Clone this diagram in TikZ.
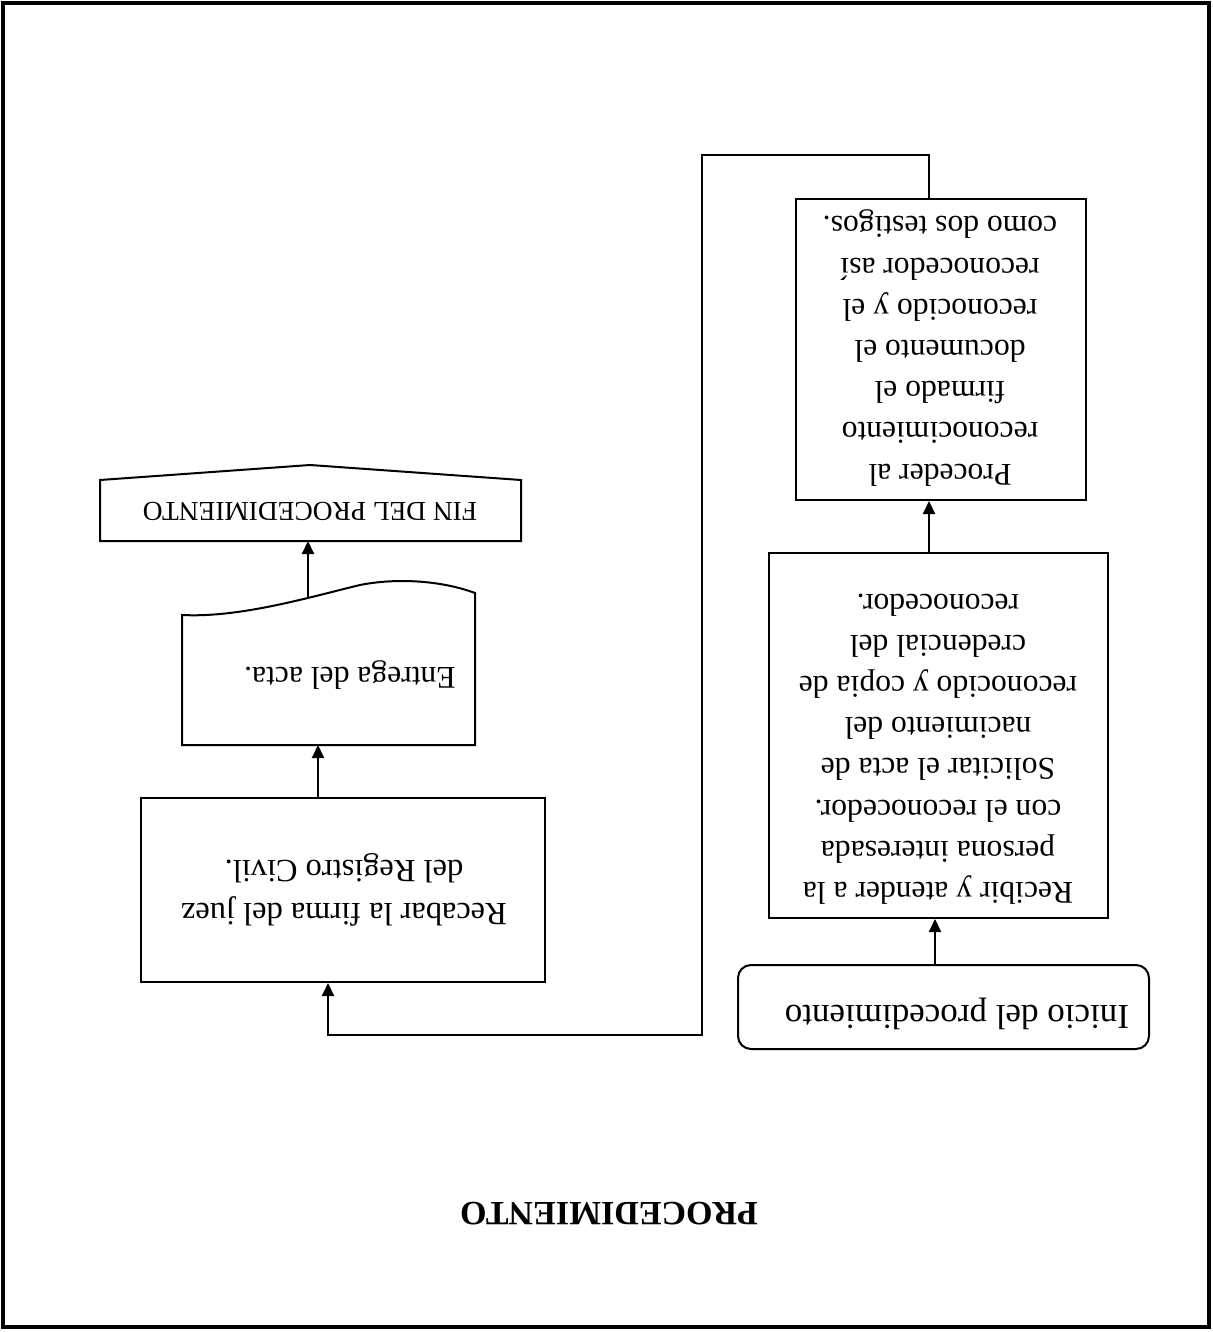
\documentclass[tikz,border=0pt]{standalone}
\usepackage{fontspec}
\setmainfont{Liberation Serif}
\usetikzlibrary{arrows.meta}
\begin{document}
\begin{tikzpicture}[x=0.5pt,y=-0.5pt,
  box/.style={draw, line width=1pt, inner sep=0pt, anchor=north west},
  txt/.style={rotate=180, align=center, inner sep=0pt,
    font=\fontsize{15.8}{20.6}\selectfont},
  arr/.style={line width=1pt, -{Triangle[length=6.5pt,width=6pt]}},
  shapeline/.style={draw, line width=1pt}
]
\useasboundingbox (0,0) rectangle (1213,1332);
% page frame
\draw[line width=1.6pt] (3,3) rectangle (1209,1327);

% process boxes
\node[box, rounded corners=6.5pt, minimum width=205.5pt, minimum height=42pt] (inicio) at (737,964) {};
\node[box, minimum width=169.5pt, minimum height=182.5pt] (recibir) at (768,552) {};
\node[box, minimum width=145pt, minimum height=150.5pt] (proceder) at (795,198) {};
\node[box, minimum width=202pt, minimum height=92pt] (recabar) at (140,797) {};

% document shape
\draw[shapeline] (182,745) -- (475,745) -- (475,593)
  .. controls (440,580) and (395,578) .. (360,585)
  .. controls (310,597) and (240,618) .. (182,615) -- cycle;
% off-page connector shape
\draw[shapeline] (100,541) -- (521,541) -- (521,480) -- (310,465) -- (100,480) -- cycle;

% texts
\node[txt, font=\fontsize{17.5}{21}\selectfont] (tInicio) at (957,1014) {Inicio del procedimiento};
\node[txt] (tRecibir) at (938,749) {Recibir y atender a la\\persona interesada\\con el reconocedor.\\Solicitar el acta de\\nacimiento del\\reconocido y copia de\\credencial del\\reconocedor.};
\node[txt] (tProceder) at (940,348) {Proceder al\\reconocimiento\\firmado el\\documento el\\reconocido y el\\reconocedor así\\como dos testigos.};
\node[txt, font=\fontsize{16.2}{21.5}\selectfont] (tRecabar) at (344,890) {Recabar la firma del juez\\del Registro Civil.};
\node[txt] (tEntrega) at (350,675) {Entrega del acta.};
\node[txt, font=\fontsize{13.7}{16}\selectfont] (tFin) at (310,511) {FIN DEL PROCEDIMIENTO};
\node[txt, font=\fontsize{17}{20}\selectfont\bfseries] (title) at (609,1214) {PROCEDIMIENTO};

% connector points on the drawn shapes
\coordinate (turnA) at (702,155);
\coordinate (turnB) at (328,1035);
\coordinate (entregaBase) at (318,745);
\coordinate (entregaTop) at (308,598);
\coordinate (finBase) at (308,541);

% connectors
\draw[arr] ([xshift=-4.25pt]inicio.north) -- ([xshift=-4.25pt]inicio.north |- recibir.south);
\draw[arr] ([xshift=-4.75pt]recibir.north) -- ([xshift=-4.75pt]recibir.north |- proceder.south);
\draw[arr] ([xshift=-6pt]proceder.north) |- (turnA) |- (turnB) -- (turnB |- recabar.south);
\draw[arr] (recabar.north -| entregaBase) -- (entregaBase);
\draw[arr] (entregaTop) -- (finBase);
\end{tikzpicture}
\end{document}
